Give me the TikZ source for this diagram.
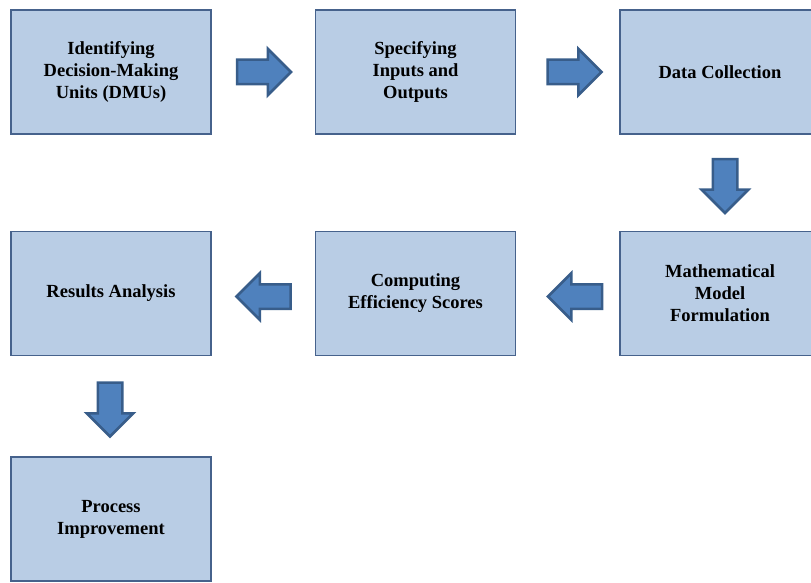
\documentclass[tikz,border=0pt]{standalone}
\usepackage{fontspec}
\setmainfont{Liberation Serif}
\usetikzlibrary{shapes.arrows,positioning,calc}

\definecolor{boxfill}{RGB}{185,205,229}
\definecolor{boxline}{RGB}{70,98,140}
\definecolor{arrowfill}{RGB}{79,129,189}
\definecolor{arrowline}{RGB}{56,93,138}

\begin{document}
\begin{tikzpicture}[x=1pt,y=1pt,node distance=96pt and 103pt]

  \tikzstyle{stage}=[rectangle,draw=boxline,fill=boxfill,line width=1.5pt,
                     minimum width=200pt,minimum height=124pt,align=center,
                     font=\bfseries\fontsize{18.5}{22}\selectfont]
  \tikzstyle{blockarrow}=[single arrow,draw=arrowline,fill=arrowfill,
                          line width=2.5pt,inner sep=11pt,
                          minimum height=54pt,single arrow head extend=11pt,
                          anchor=tail]

  \useasboundingbox (0,0) rectangle (811,-583);
  \clip (0,0) rectangle (811,-583);

  % top row, left to right
  \node [stage] (dmu) at (111,-72) {Identifying\\Decision-Making\\Units (DMUs)};
  \node [stage] (inout) [right=of dmu]   {Specifying\\Inputs and\\Outputs};
  \node [stage] (data)  [right=of inout] {Data Collection};

  % second row, right to left
  \node [stage] (model)   [below=of data]   {Mathematical\\Model\\Formulation};
  \node [stage] (scores)  [left=of model]   {Computing\\Efficiency Scores};
  \node [stage] (results) [left=of scores]  {Results Analysis};

  \node [stage] (improve) [below=100pt of results] {Process\\Improvement};

  % block arrows between the stages
  \node [blockarrow] (a1) at ($(dmu.east)+(24,0)$) {};
  \node [blockarrow] (a2) at ($(inout.east)+(30,0)$) {};
  \node [blockarrow,shape border rotate=270] (a3) at ($(data.south)+(5,-23)$) {};
  \node [blockarrow,shape border rotate=180] (a4) at ($(model.west)+(-16,-3)$) {};
  \node [blockarrow,shape border rotate=180] (a5) at ($(scores.west)+(-23,-3)$) {};
  \node [blockarrow,shape border rotate=270] (a6) at ($(results.south)+(-1,-25)$) {};
\end{tikzpicture}
\end{document}
